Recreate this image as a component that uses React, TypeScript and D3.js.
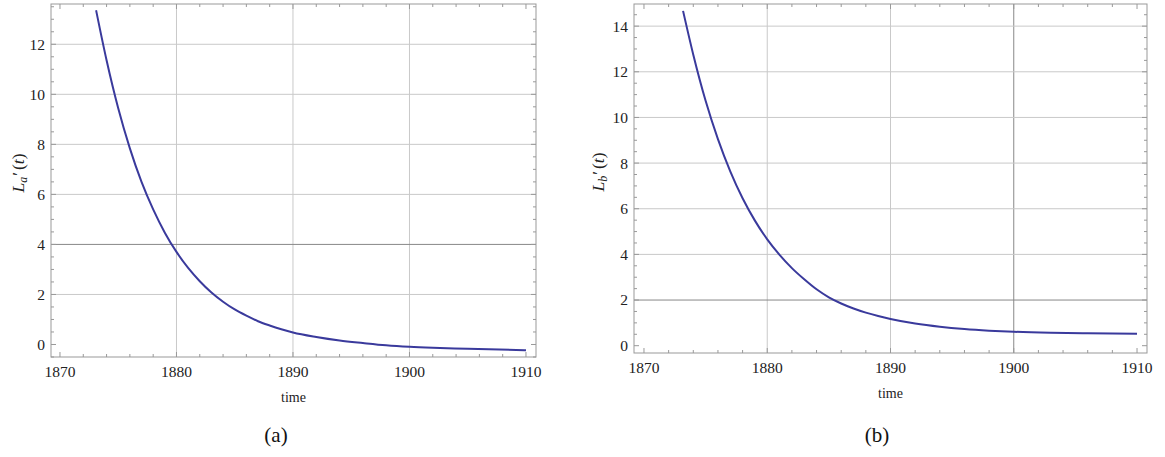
import React from "react";
import * as d3 from "d3";

// ---- data ----
const yearsA = [1873.1, 1874, 1875, 1876, 1877, 1878, 1879, 1880, 1881, 1882, 1883, 1884, 1885, 1886, 1887, 1888, 1889, 1890, 1892, 1894, 1896, 1898, 1900, 1902, 1905, 1910];
const valuesA = [13.36, 11.36, 9.44, 7.84, 6.5, 5.4, 4.47, 3.7, 3.06, 2.53, 2.08, 1.71, 1.4, 1.15, 0.93, 0.76, 0.61, 0.48, 0.3, 0.16, 0.06, -0.03, -0.09, -0.13, -0.17, -0.23];

const yearsB = [1873.17, 1874, 1875, 1876, 1877, 1878, 1879, 1880, 1881, 1882, 1883, 1884, 1885, 1886, 1887, 1888, 1889, 1890, 1892, 1894, 1896, 1898, 1900, 1903, 1906, 1910];
const valuesB = [14.67, 12.75, 10.73, 9.05, 7.64, 6.46, 5.48, 4.66, 3.98, 3.4, 2.91, 2.47, 2.12, 1.85, 1.63, 1.45, 1.3, 1.17, 0.97, 0.83, 0.73, 0.66, 0.61, 0.565, 0.54, 0.52];

const xTickLabels = [1870, 1880, 1890, 1900, 1910];
const yTicksA = [0, 2, 4, 6, 8, 10, 12];
const yTicksB = [0, 2, 4, 6, 8, 10, 12, 14];
const xGridA = [1880, 1890, 1900];
const xGridB = [1880, 1890, 1900];
const yGridA = [2, 4, 6, 8, 10, 12];
const yGridB = [2, 4, 6, 8, 10, 12, 14];

const SERIF = { fontFamily: "'Liberation Serif', 'Times New Roman', serif" };
const LINE_COLOR = "#3a3a9c";

type PanelProps = {
  left: number; right: number; top: number; bottom: number;
  xDomain: [number, number]; yDomain: [number, number];
  years: number[]; values: number[]; yTicks: number[];
  xGrid: number[]; yGrid: number[];
  darkX: number[]; darkY: number[];
  sub: string; labelX: number; labelY: number;
  timeY: number; caption: string; captionX: number;
};

function Panel(p: PanelProps) {
  const x = d3.scaleLinear().domain(p.xDomain).range([p.left, p.right]);
  const y = d3.scaleLinear().domain(p.yDomain).range([p.bottom, p.top]);
  const pts = p.years.map((t, i) => [t, p.values[i]] as [number, number]);
  const line = d3.line<[number, number]>().x(d => x(d[0])).y(d => y(d[1])).curve(d3.curveMonotoneX);

  const xMinor = d3.range(1870, 1911, 2).filter(v => v % 10 !== 0);
  const yMinor = d3.range(Math.ceil(p.yDomain[0] * 2) / 2, p.yDomain[1], 0.5).filter(v => Math.abs(v % 2) > 1e-6);
  const frame = "#999999";
  const grid = "#c9c9c9";
  const dark = "#888888";
  const maj = 5, mn = 3;
  const cx = (p.left + p.right) / 2;

  return (
    <g>
      {p.xGrid.map(v => (
        <line key={"gx" + v} x1={x(v)} x2={x(v)} y1={p.top} y2={p.bottom}
          stroke={p.darkX.includes(v) ? dark : grid} strokeWidth={1} />
      ))}
      {p.yGrid.map(v => (
        <line key={"gy" + v} x1={p.left} x2={p.right} y1={y(v)} y2={y(v)}
          stroke={p.darkY.includes(v) ? dark : grid} strokeWidth={1} />
      ))}
      <rect x={p.left} y={p.top} width={p.right - p.left} height={p.bottom - p.top}
        fill="none" stroke={frame} strokeWidth={1} />
      {xTickLabels.map(v => (
        <g key={"xt" + v}>
          <line x1={x(v)} x2={x(v)} y1={p.bottom} y2={p.bottom - maj} stroke={frame} />
          <line x1={x(v)} x2={x(v)} y1={p.top} y2={p.top + maj} stroke={frame} />
          <text x={x(v)} y={p.bottom + 20} textAnchor="middle" style={SERIF} fontSize={15.5} fill="#222">{v}</text>
        </g>
      ))}
      {xMinor.map(v => (
        <g key={"xm" + v}>
          <line x1={x(v)} x2={x(v)} y1={p.bottom} y2={p.bottom - mn} stroke={frame} />
          <line x1={x(v)} x2={x(v)} y1={p.top} y2={p.top + mn} stroke={frame} />
        </g>
      ))}
      {p.yTicks.map(v => (
        <g key={"yt" + v}>
          <line x1={p.left} x2={p.left + maj} y1={y(v)} y2={y(v)} stroke={frame} />
          <line x1={p.right} x2={p.right - maj} y1={y(v)} y2={y(v)} stroke={frame} />
          <text x={p.left - 6} y={y(v)} dy="0.35em" textAnchor="end" style={SERIF} fontSize={15.5} fill="#222">{v}</text>
        </g>
      ))}
      {yMinor.map(v => (
        <g key={"ym" + v}>
          <line x1={p.left} x2={p.left + mn} y1={y(v)} y2={y(v)} stroke={frame} />
          <line x1={p.right} x2={p.right - mn} y1={y(v)} y2={y(v)} stroke={frame} />
        </g>
      ))}
      <path d={line(pts) || ""} fill="none" stroke={LINE_COLOR} strokeWidth={2} />
      <text x={cx} y={p.timeY} textAnchor="middle" style={SERIF} fontSize={14} fill="#222">time</text>
      <text transform={`translate(${p.labelX},${p.labelY}) rotate(-90)`} textAnchor="middle"
        style={SERIF} fontSize={17.5} fill="#222">
        <tspan fontStyle="italic">L</tspan>
        <tspan fontStyle="italic" fontSize={12} dy={3}>{p.sub}</tspan>
        <tspan dy={-3} dx={1}>′</tspan>
        <tspan dx={2}>(</tspan>
        <tspan fontStyle="italic">t</tspan>
        <tspan>)</tspan>
      </text>
      <text x={p.captionX} y={442} textAnchor="middle" style={SERIF} fontSize={21} fill="#111">{p.caption}</text>
    </g>
  );
}

export default function App() {
  return (
    <svg width={1165} height={457} style={{ position: "absolute", left: 0, top: 0, background: "#fff" }}>
      <Panel left={51} right={536} top={4} bottom={357}
        xDomain={[1869.23, 1910.86]} yDomain={[-0.5, 13.61]}
        years={yearsA} values={valuesA} yTicks={yTicksA}
        xGrid={xGridA} yGrid={yGridA} darkX={[]} darkY={[4]}
        sub="a" labelX={24} labelY={173} timeY={402} caption="(a)" captionX={276} />
      <Panel left={634} right={1147} top={4} bottom={353}
        xDomain={[1869.19, 1910.81]} yDomain={[-0.32, 14.97]}
        years={yearsB} values={valuesB} yTicks={yTicksB}
        xGrid={xGridB} yGrid={yGridB} darkX={[1900]} darkY={[2]}
        sub="b" labelX={604} labelY={172} timeY={398} caption="(b)" captionX={877} />
    </svg>
  );
}
